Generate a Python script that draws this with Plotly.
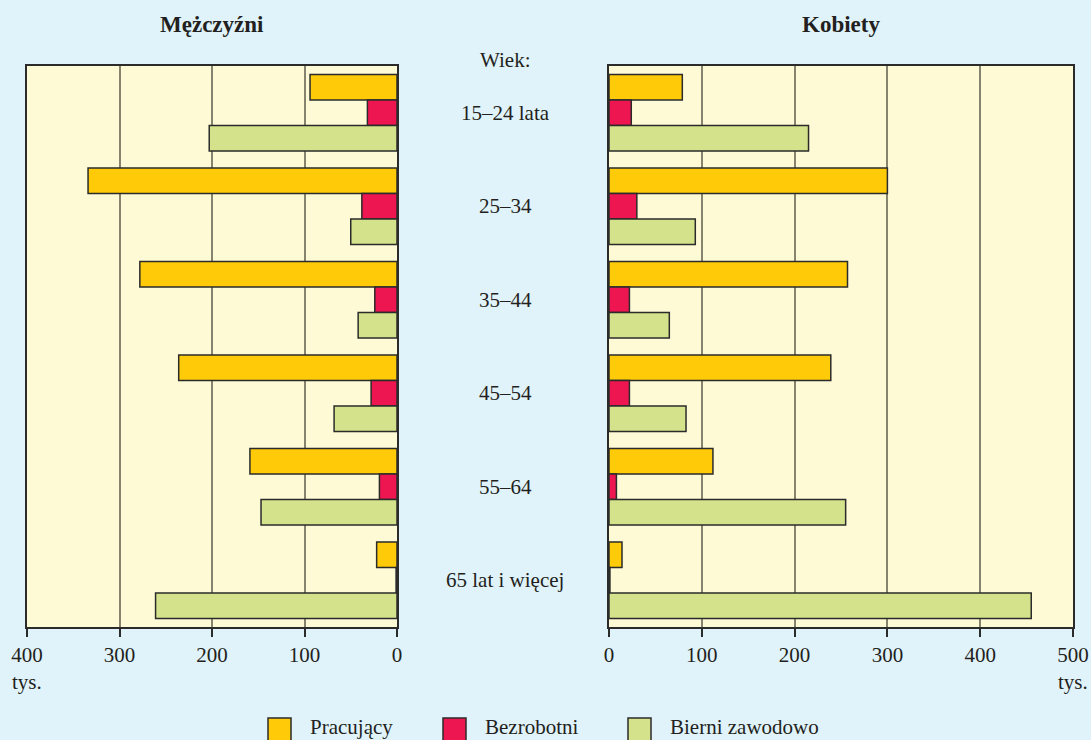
import plotly.graph_objects as go

# ---- data ----
age_groups = ["15–24 lata", "25–34", "35–44", "45–54", "55–64", "65 lat i więcej"]
series_names = ["Pracujący", "Bezrobotni", "Bierni zawodowo"]
series_colors = ["#ffcb08", "#ee1651", "#d4e38b"]

men_employed = [94, 334, 278, 236, 159, 22]
men_unemployed = [32, 38, 24, 28, 19, 1]
men_inactive = [203, 50, 42, 68, 147, 261]

women_employed = [79, 300, 257, 239, 112, 14]
women_unemployed = [24, 30, 22, 22, 8, 1]
women_inactive = [215, 93, 65, 83, 255, 455]

men_ticks = [0, 100, 200, 300, 400]
women_ticks = [0, 100, 200, 300, 400, 500]

W, H = 1091, 740
FONT = "Liberation Serif"
TXT = "#231f20"
EDGE = "#2b2b2b"
GRID = "#86836f"

def px(x):
    return x / W

def py(y):
    return 1 - y / H

fig = go.Figure()

men = [men_employed, men_unemployed, men_inactive]
women = [women_employed, women_unemployed, women_inactive]

for name, color, vals in zip(series_names, series_colors, men):
    fig.add_trace(go.Bar(
        x=vals, y=age_groups, orientation="h", name=name,
        marker=dict(color=color, line=dict(color=EDGE, width=1.5)),
        xaxis="x", yaxis="y", showlegend=False,
    ))
for name, color, vals in zip(series_names, series_colors, women):
    fig.add_trace(go.Bar(
        x=vals, y=age_groups, orientation="h", name=name,
        marker=dict(color=color, line=dict(color=EDGE, width=1.5)),
        xaxis="x2", yaxis="y2", showlegend=False,
    ))

ydom = [py(627), py(66)]
axis_common = dict(
    showgrid=True, gridcolor=GRID, gridwidth=1.5,
    showline=True, linecolor=EDGE, linewidth=1.5, mirror=True,
    ticks="outside", ticklen=8, tickwidth=1.5, tickcolor=EDGE,
    tickfont=dict(family=FONT, size=21, color=TXT),
    zeroline=False, fixedrange=True, automargin=False,
)
yaxis_common = dict(
    domain=ydom, type="category", categoryorder="array", categoryarray=age_groups,
    autorange="reversed", showticklabels=False, ticks="",
    showline=True, linecolor=EDGE, linewidth=1.5, mirror=True,
    showgrid=False, zeroline=False, fixedrange=True, automargin=False,
)

fig.update_layout(
    width=W, height=H,
    margin=dict(l=0, r=0, t=0, b=0, pad=0, autoexpand=False),
    paper_bgcolor="#e0f3fa",
    plot_bgcolor="#fffad6",
    barmode="group", bargap=0.18, bargroupgap=0,
    showlegend=False,
    font=dict(family=FONT, size=21, color=TXT),
    xaxis=dict(domain=[px(27), px(397)], range=[400, 0], tickvals=men_ticks,
               anchor="y", **axis_common),
    yaxis=dict(anchor="x", **yaxis_common),
    xaxis2=dict(domain=[px(609), px(1073)], range=[0, 500], tickvals=women_ticks,
                anchor="y2", **axis_common),
    yaxis2=dict(anchor="x2", **yaxis_common),
)

annotations = []
# panel titles
annotations.append(dict(text="<b>Mężczyźni</b>", x=px(212), y=py(25), xref="paper", yref="paper",
                        showarrow=False, font=dict(family=FONT, size=23, color=TXT),
                        xanchor="center", yanchor="middle"))
annotations.append(dict(text="<b>Kobiety</b>", x=px(841), y=py(25), xref="paper", yref="paper",
                        showarrow=False, font=dict(family=FONT, size=23, color=TXT),
                        xanchor="center", yanchor="middle"))
# "Wiek:" header
annotations.append(dict(text="Wiek:", x=px(505), y=py(60), xref="paper", yref="paper",
                        showarrow=False, font=dict(family=FONT, size=21, color=TXT),
                        xanchor="center", yanchor="middle"))
# category labels in the middle
for g in age_groups:
    annotations.append(dict(text=g, x=px(505), y=g, xref="paper", yref="y",
                            showarrow=False, font=dict(family=FONT, size=21, color=TXT),
                            xanchor="center", yanchor="middle"))
# unit labels
annotations.append(dict(text="tys.", x=400, y=py(682), xref="x", yref="paper",
                        showarrow=False, font=dict(family=FONT, size=21, color=TXT),
                        xanchor="center", yanchor="middle"))
annotations.append(dict(text="tys.", x=500, y=py(682), xref="x2", yref="paper",
                        showarrow=False, font=dict(family=FONT, size=21, color=TXT),
                        xanchor="center", yanchor="middle"))

# custom legend
shapes = []
legend_box_x = [268, 443, 628]
for name, color, bx in zip(series_names, series_colors, legend_box_x):
    shapes.append(dict(type="rect", xref="paper", yref="paper",
                       x0=px(bx), x1=px(bx + 23), y0=py(744), y1=py(718),
                       fillcolor=color, line=dict(color=EDGE, width=1.5)))
    annotations.append(dict(text=name, x=px(bx + 40), y=py(727), xref="paper", yref="paper",
                            showarrow=False, font=dict(family=FONT, size=21, color=TXT),
                            xanchor="left", yanchor="middle"))

fig.update_layout(annotations=annotations, shapes=shapes)

fig.write_html("out.html",
               config={"displayModeBar": False, "staticPlot": False},
               post_script="document.body.style.margin='0px';document.body.style.overflow='hidden';")
